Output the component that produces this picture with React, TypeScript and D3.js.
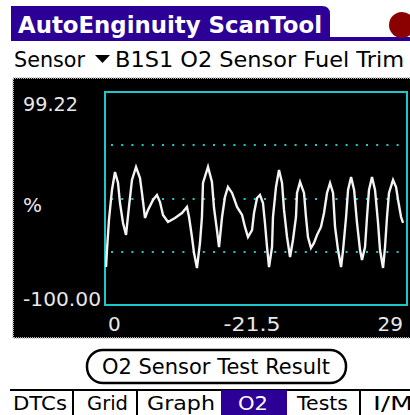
import * as d3 from 'd3'
import { useEffect, useRef } from 'react'

// readings taken from the trace: time (s) and fuel trim (%)
const sampleTimes = [
  0.1, 0.19, 0.38, 0.67, 0.96, 1.25, 1.44, 1.73, 2.02, 2.3, 2.59, 2.98, 3.36, 3.55, 3.84, 4.13,
  4.61, 4.99, 5.28, 5.57, 6.05, 6.72, 7.39, 7.87, 8.07, 8.35, 8.55, 8.83, 9.12, 9.31, 9.41, 9.89,
  10.27, 10.47, 10.75, 10.95, 11.24, 11.52, 11.81, 12.2, 12.68, 13.16, 13.44, 13.73, 14.12, 14.31,
  14.6, 14.88, 15.17, 15.36, 15.56, 15.75, 16.04, 16.13, 16.42, 16.71, 17.0, 17.19, 17.48, 17.77,
  18.05, 18.34, 18.44, 18.73, 19.11, 19.3, 19.49, 19.78, 20.07, 20.36, 20.74, 21.03, 21.32, 21.61,
  21.9, 22.09, 22.38, 22.67, 22.86, 23.15, 23.34, 23.63, 23.92, 24.2, 24.49, 24.68, 24.97, 25.16,
  25.35, 25.64, 25.93, 26.22, 26.41, 26.7, 26.89, 27.08, 27.27, 27.66, 27.95, 28.14, 28.43, 28.62,
]
const fuelTrim = [
  -64.5, -48.6, -20.5, 7.6, 24.4, 14.1, -4.6, -23.3, -34.5, -8.3, 16.9, 29.1, 18.8, 4.8, -18.6, -11.1,
  -1.8, 2.9, -3.7, -15.8, -22.4, -18.6, -14.0, -8.3, -17.7, -36.4, -51.4, -65.4, -42.0, -17.7, 14.1, 29.1,
  15.0, -9.3, -29.9, -45.8, -17.7, 1.0, 10.4, 4.8, -8.3, -15.8, -27.0, -36.4, -29.9, -14.0,
  0.1, 2.9, -4.6, -23.3, -45.8, -64.5, -45.8, -17.7, 10.4, 26.3, 14.1, -11.1, -36.4, -55.1,
  -39.2, -17.7, 4.8, 15.0, 4.8, -17.7, -36.4, -46.7, -42.0, -34.5, -27.0, -14.0, 4.8, 14.1,
  4.8, -27.0, -48.6, -64.5, -48.6, -17.7, 7.6, 19.7, 7.6, -23.3, -48.6, -57.9, -45.8, -17.7,
  7.6, 19.7, 7.6, -23.3, -48.6, -65.4, -45.8, -17.7, 4.8, 16.9, 10.4, -1.8, -17.7, -23.3,
]
const yMax = 99.22
const yMin = -100.0
const xLabels = ['0', '-21.5', '29']
const tabs = ['DTCs', 'Grid', 'Graph', 'O2', 'Tests', 'I/M']
const activeTab = 'O2'

const W = 410
const H = 415
const purple = '#2c0096'
const cyan = '#1ec8c8'
const font = 'DejaVu Sans, sans-serif'

export default function App() {
  const plot = { left: 105, right: 407, top: 92, bottom: 305 }
  const x = d3.scaleLinear([0, 29], [plot.left, plot.right])
  const y = d3.scaleLinear([yMin, yMax], [plot.bottom, plot.top])
  const gline = useRef<SVGGElement>(null)

  const points = sampleTimes.map((t, i) => [t, fuelTrim[i]] as [number, number])
  const line = d3
    .line<[number, number]>()
    .x((d) => x(d[0]))
    .y((d) => y(d[1]))

  useEffect(() => {
    const g = d3.select(gline.current)
    g.selectAll('*').remove()
    g.append('path')
      .attr('d', line(points))
      .attr('fill', 'none')
      .attr('stroke', '#f4f4f4')
      .attr('stroke-width', 2.4)
      .attr('stroke-linejoin', 'miter')
  }, [])

  // quarter lines inside the plot
  const grid = [0.25, 0.5, 0.75].map((f) => yMin + (yMax - yMin) * f)

  // tab layout
  const tabX = [13, 87, 147, 238, 297, 373]
  const tabW = [54, 41, 68, 30, 51, 40]
  const seps = [73, 137, 360]

  return (
    <svg width={W} height={H} style={{ position: 'fixed', left: 0, top: 0, background: '#fff' }}>
      {/* title tab */}
      <path d={`M11,41 V6 H322 Q330,6 330,14 V37 H410 V41 Z`} fill={purple} />
      <text x={18} y={33} fill="#fff" fontFamily={font} fontWeight="bold" fontSize={23} textLength={304} lengthAdjust="spacingAndGlyphs">
        AutoEnginuity ScanTool
      </text>
      <circle cx={402} cy={25} r={13} fill="#8b0000" />

      {/* sensor selector */}
      <text x={14} y={67} fontFamily={font} fontSize={22} fill="#000" textLength={71} lengthAdjust="spacingAndGlyphs">Sensor</text>
      <path d="M95,55 L110,55 L102.5,63 Z" fill="#000" />
      <text x={115} y={67} fontFamily={font} fontSize={22} fill="#000" textLength={289} lengthAdjust="spacingAndGlyphs">
        B1S1 O2 Sensor Fuel Trim
      </text>

      {/* chart panel */}
      <rect x={13} y={78} width={400} height={260} fill="#000" stroke="#bbb" strokeWidth={2} strokeDasharray="1 1" />
      <rect x={plot.left} y={plot.top} width={plot.right - plot.left} height={plot.bottom - plot.top} fill="none" stroke={cyan} strokeWidth={2} />
      {grid.map((v) => (
        <line key={v} x1={plot.left + 6} x2={plot.right - 6} y1={Math.round(y(v))} y2={Math.round(y(v))} stroke={cyan} strokeWidth={2} strokeDasharray="2 8.2" />
      ))}
      <g ref={gline} />

      <g fontFamily={font} fill="#e8e8e8" fontSize={20}>
        <text x={23} y={111} textLength={55} lengthAdjust="spacingAndGlyphs">{yMax.toFixed(2)}</text>
        <text x={23} y={212}>%</text>
        <text x={23} y={306} textLength={78} lengthAdjust="spacingAndGlyphs">{yMin.toFixed(2)}</text>
        <text x={x(0) + 3} y={331} textAnchor="start">{xLabels[0]}</text>
        <text x={252} y={331} textAnchor="middle" textLength={57} lengthAdjust="spacingAndGlyphs">{xLabels[1]}</text>
        <text x={403} y={331} textAnchor="end">{xLabels[2]}</text>
      </g>

      {/* button */}
      <rect x={87} y={350} width={259} height={33} rx={16} fill="#fff" stroke="#000" strokeWidth={2.5} />
      <text x={216} y={374} textAnchor="middle" fontFamily={font} fontSize={21} fill="#000" textLength={228} lengthAdjust="spacingAndGlyphs">
        O2 Sensor Test Result
      </text>

      {/* tabs */}
      <line x1={10} x2={W} y1={390} y2={390} stroke="#000" strokeWidth={2} />
      {seps.map((s) => (
        <line key={s} x1={s} x2={s} y1={390} y2={H} stroke="#000" strokeWidth={2} />
      ))}
      <rect x={221} y={390} width={66} height={25} fill={purple} />
      {tabs.map((t, i) => (
        <text key={t} x={tabX[i]} y={410} fontFamily={font} fontSize={20} fill={t === activeTab ? '#fff' : '#000'} textLength={tabW[i]} lengthAdjust="spacingAndGlyphs">
          {t}
        </text>
      ))}
    </svg>
  )
}
